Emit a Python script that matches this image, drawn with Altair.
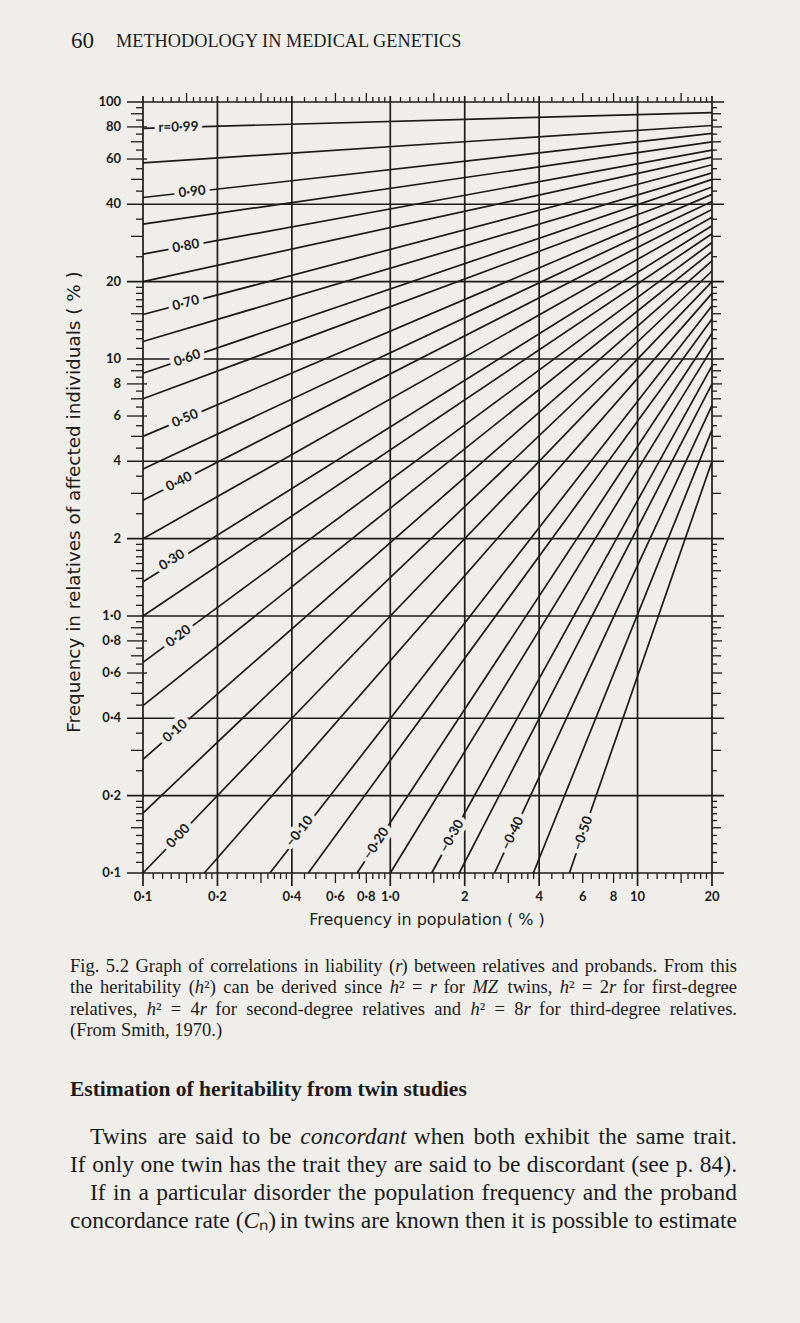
import altair as alt
import pandas as pd

BG = "#efeeea"
INK = "#1b1b1b"
W, H = 569, 771

# ---------------- data ----------------
r_values = [0.99, 0.95, 0.90, 0.85, 0.80, 0.75, 0.70, 0.65, 0.60, 0.55, 0.50,
            0.45, 0.40, 0.35, 0.30, 0.25, 0.20, 0.15, 0.10, 0.05, 0.00,
            -0.05, -0.10, -0.15, -0.20, -0.25, -0.30, -0.35, -0.40, -0.45, -0.50]
start_x = [0.1, 0.1, 0.1, 0.1, 0.1, 0.1, 0.1, 0.1, 0.1, 0.1, 0.1,
           0.1, 0.1, 0.1, 0.1, 0.1, 0.1, 0.1, 0.1, 0.1, 0.1,
           0.177, 0.326, 0.466, 0.734, 1.0, 1.47, 1.90, 2.64, 3.79, 5.3]
start_y = [79, 58, 42.5, 33.5, 25.6, 20.0, 14.9, 11.7, 8.8, 7.0, 5.0,
           3.73, 2.82, 2.0, 1.36, 1.0, 0.66, 0.448, 0.277, 0.171, 0.1,
           0.1, 0.1, 0.1, 0.1, 0.1, 0.1, 0.1, 0.1, 0.1, 0.1]
end_x = [20] * 31
end_y = [91, 81, 75.5, 70, 65, 61, 57, 53, 50, 46.7, 43.7,
         41, 38.2, 35.6, 33, 30.7, 28.4, 26.2, 24.1, 22, 20,
         18, 16.1, 14.3, 12.6, 11, 9.4, 8, 6.6, 5.3, 4.0]

label_text = ["r=0·99", "0·90", "0·80", "0·70", "0·60", "0·50", "0·40", "0·30",
              "0·20", "0·10", "0·00", "−0·10", "−0·20", "−0·30", "−0·40", "−0·50"]
label_x = [0.139, 0.158, 0.149, 0.149, 0.151, 0.148, 0.140, 0.131,
           0.139, 0.135, 0.139, 0.43, 0.878, 1.776, 3.13, 6.02]
label_y = [79.7, 44.7, 27.5, 16.5, 10.07, 5.87, 3.33, 1.65,
           0.834, 0.357, 0.139, 0.145, 0.130, 0.139, 0.1425, 0.1425]
label_angle = [359, 354, 350, 345, 341, 337, 333, 328,
               323, 319, 314, 308, 303, 299, 295, 289]

x_tick_values = [0.1, 0.2, 0.4, 0.6, 0.8, 1, 2, 4, 6, 8, 10, 20]
x_tick_text = ["0·1", "0·2", "0·4", "0·6", "0·8", "1·0", "2", "4", "6", "8", "10", "20"]
y_tick_values = [0.1, 0.2, 0.4, 0.6, 0.8, 1, 2, 4, 6, 8, 10, 20, 40, 60, 80, 100]
y_tick_text = ["0·1", "0·2", "0·4", "0·6", "0·8", "1·0", "2", "4", "6", "8",
               "10", "20", "40", "60", "80", "100"]

grid_x = [0.1, 0.2, 0.4, 1, 2, 4, 10, 20]
grid_y = [0.1, 0.2, 0.4, 1, 2, 4, 10, 20, 40, 100]

x_minor = [0.11, 0.12, 0.13, 0.14, 0.16, 0.17, 0.18, 0.19,
           0.22, 0.24, 0.26, 0.28, 0.32, 0.34, 0.36, 0.38,
           0.45, 0.5, 0.55, 0.65, 0.7, 0.75, 0.85, 0.9, 0.95,
           1.1, 1.2, 1.3, 1.4, 1.6, 1.7, 1.8, 1.9,
           2.2, 2.4, 2.6, 2.8, 3.2, 3.4, 3.6, 3.8,
           4.5, 5, 5.5, 6.5, 7, 7.5, 8.5, 9, 9.5,
           11, 12, 13, 14, 16, 17, 18, 19]
x_mid = [0.15, 0.3, 0.6, 0.8, 1.5, 3, 6, 8, 15]

y_minor = [0.11, 0.12, 0.13, 0.14, 0.16, 0.17, 0.18, 0.19, 0.25, 0.35,
           0.45, 0.55, 0.65, 0.75, 0.85, 0.95,
           1.1, 1.2, 1.3, 1.4, 1.6, 1.7, 1.8, 1.9, 2.5, 3.5,
           4.5, 5.5, 6.5, 7.5, 8.5, 9.5,
           11, 12, 13, 14, 16, 17, 18, 19, 25, 35,
           45, 55, 65, 75, 85, 95]
y_mid = [0.15, 0.3, 0.5, 0.7, 0.9, 1.5, 3, 5, 7, 9, 15, 30, 50, 70, 90]
y_major = [0.6, 0.8, 6, 8, 60, 80]

header_num = "60"
header_text = "METHODOLOGY IN MEDICAL GENETICS"
y_title = "Frequency in relatives of affected individuals ( % )"
x_title = "Frequency in population ( % )"
# _x_ marks italic pieces
caption_lines = [
    "Fig. 5.2 Graph of correlations in liability (_r_) between relatives and probands. From this",
    "the heritability (_h_²) can be derived since _h_² = _r_ for _MZ_ twins, _h_² = 2_r_ for first-degree",
    "relatives, _h_² = 4_r_ for second-degree relatives and _h_² = 8_r_ for third-degree relatives.",
    "(From Smith, 1970.)",
]
heading = "Estimation of heritability from twin studies"
para_lines = [
    "Twins are said to be _concordant_ when both exhibit the same trait.",
    "If only one twin has the trait they are said to be discordant (see p. 84).",
    "If in a particular disorder the population frequency and the proband",
    "concordance rate (_C_ₙ) in twins are known then it is possible to estimate",
]

# ---------------- text layout helper (Times metrics, per 1000 em) ----------------
TNR = {" ": 250, "!": 333, "(": 333, ")": 333, ",": 250, "-": 333, ".": 250,
       ":": 278, ";": 278, "=": 564, "²": 300, "ₙ": 300, "%": 833,
       "A": 722, "B": 667, "C": 667, "D": 722, "E": 611, "F": 556, "G": 722,
       "H": 722, "I": 333, "J": 389, "K": 722, "L": 611, "M": 889, "N": 722,
       "O": 722, "P": 556, "Q": 722, "R": 667, "S": 556, "T": 611, "U": 722,
       "V": 722, "W": 944, "X": 722, "Y": 722, "Z": 611,
       "a": 444, "b": 500, "c": 444, "d": 500, "e": 444, "f": 333, "g": 500,
       "h": 500, "i": 278, "j": 278, "k": 500, "l": 278, "m": 778, "n": 500,
       "o": 500, "p": 500, "q": 500, "r": 333, "s": 389, "t": 278, "u": 500,
       "v": 500, "w": 722, "x": 500, "y": 500, "z": 444}


def tw(s, size):
    return sum(TNR.get(ch, 500) for ch in s) * size / 1000.0


def layout(lines, x_starts, x_end, y0, dy, size, justify):
    roman, italic = [], []
    for k, line in enumerate(lines):
        words = []
        for w in line.split(" "):
            parts = w.split("_")
            words.append([(p, j % 2 == 1) for j, p in enumerate(parts) if p])
        widths = [sum(tw(p, size) for p, _ in wd) for wd in words]
        gap = tw(" ", size)
        if justify[k] and len(words) > 1:
            gap = max(gap * 0.7, (x_end - x_starts[k] - sum(widths)) / (len(words) - 1))
        x = x_starts[k]
        y = y0 + k * dy
        for wd, wdt in zip(words, widths):
            xx = x
            for p, it in wd:
                (italic if it else roman).append({"t": p, "x": xx, "y": y})
                xx += tw(p, size)
            x += wdt + gap
    return roman, italic


# ---------------- chart ----------------
OX, OY = 143, 102  # page position of plot origin
xs = alt.Scale(type="log", domain=[0.1, 20], nice=False)
ys = alt.Scale(type="log", domain=[0.1, 100], nice=False)
NUMFONT = "Lato"

lines_df = pd.DataFrame({"r": r_values, "x0": start_x, "y0": start_y,
                         "x1": end_x, "y1": end_y})
curves = alt.Chart(lines_df).mark_rule(color=INK, strokeWidth=1.7).encode(
    x=alt.X("x0:Q", scale=xs, axis=None), y=alt.Y("y0:Q", scale=ys, axis=None),
    x2="x1:Q", y2="y1:Q")

vgrid = alt.Chart(pd.DataFrame({"v": grid_x})).mark_rule(color=INK, strokeWidth=1.7).encode(
    x=alt.X("v:Q", scale=xs, axis=None), y=alt.value(-6), y2=alt.value(H + 13))
hgrid = alt.Chart(pd.DataFrame({"v": grid_y})).mark_rule(color=INK, strokeWidth=1.7).encode(
    y=alt.Y("v:Q", scale=ys, axis=None), x=alt.value(-16), x2=alt.value(W + 12))


def xticks(vals, a, b, sw=1.3):
    return alt.Chart(pd.DataFrame({"v": vals})).mark_rule(color=INK, strokeWidth=sw).encode(
        x=alt.X("v:Q", scale=xs, axis=None), y=alt.value(a), y2=alt.value(b))


def yticks(vals, a, b, sw=1.3):
    return alt.Chart(pd.DataFrame({"v": vals})).mark_rule(color=INK, strokeWidth=sw).encode(
        y=alt.Y("v:Q", scale=ys, axis=None), x=alt.value(a), x2=alt.value(b))


tick_layers = [
    xticks(x_minor, H, H + 6), xticks(x_mid, H, H + 10),
    xticks(x_minor, 0, -5), xticks(x_mid, 0, -9),
    yticks(y_minor, -7, 0), yticks(y_mid, -12, 0), yticks(y_major, -16, 4),
    yticks(y_minor, W, W + 5), yticks(y_mid, W, W + 9), yticks(y_major, W, W + 10),
]

xlab = alt.Chart(pd.DataFrame({"v": x_tick_values, "t": x_tick_text})).mark_text(
    font=NUMFONT, fontSize=13, fontWeight="bold", color=INK, align="center",
    baseline="middle").encode(
    x=alt.X("v:Q", scale=xs, axis=None), y=alt.value(897 - OY), text="t:N")
ylab = alt.Chart(pd.DataFrame({"v": y_tick_values, "t": y_tick_text})).mark_text(
    font=NUMFONT, fontSize=13, fontWeight="bold", color=INK, align="right",
    baseline="middle").encode(
    y=alt.Y("v:Q", scale=ys, axis=None), x=alt.value(121 - OX), text="t:N")

lab_df = pd.DataFrame({"t": label_text, "x": label_x, "y": label_y, "a": label_angle})
halo = alt.Chart(lab_df).mark_text(
    font=NUMFONT, fontSize=13.5, fontWeight="bold", fill=BG, stroke=BG,
    strokeWidth=9, strokeJoin="round", align="center", baseline="middle").encode(
    x=alt.X("x:Q", scale=xs, axis=None), y=alt.Y("y:Q", scale=ys, axis=None),
    text="t:N", angle=alt.Angle("a:Q", scale=None))
labels = alt.Chart(lab_df).mark_text(
    font=NUMFONT, fontSize=13.5, fontWeight="bold", color=INK,
    align="center", baseline="middle").encode(
    x=alt.X("x:Q", scale=xs, axis=None), y=alt.Y("y:Q", scale=ys, axis=None),
    text="t:N", angle=alt.Angle("a:Q", scale=None))


def txt(s, x, y, size, font="Liberation Serif", weight="normal", style="normal",
        align="left", angle=0):
    return alt.Chart(alt.Data(values=[{}])).mark_text(
        text=s, font=font, fontSize=size, fontWeight=weight, fontStyle=style,
        align=align, baseline="middle", color=INK, angle=angle).encode(
        x=alt.value(x - OX), y=alt.value(y - OY))


def words_layer(rows, size, style):
    df = pd.DataFrame(rows)
    df["x"] = df["x"] - OX
    df["y"] = df["y"] - OY
    return alt.Chart(df).mark_text(
        font="Liberation Serif", fontSize=size, fontStyle=style, color=INK,
        align="left", baseline="middle").encode(
        x=alt.X("x:Q", scale=None, axis=None), y=alt.Y("y:Q", scale=None, axis=None),
        text="t:N")


CAP_SIZE, PARA_SIZE = 18.5, 23.5
cap_r, cap_i = layout(caption_lines, [70, 70, 70, 70], 737, 966, 21.4, CAP_SIZE,
                      [True, True, True, False])
par_r, par_i = layout(para_lines, [90, 70, 90, 70], 737, 1137, 28, PARA_SIZE,
                      [True, True, True, True])

texts = [
    txt(header_num, 71, 41, 23),
    txt(header_text, 116, 42, 18.3),
    txt(y_title, 74, 502, 18.4, font="DejaVu Sans", angle=270, align="center"),
    txt(x_title, 427, 920, 16, font="DejaVu Sans", align="center"),
    txt(heading, 70, 1090, 21.5, weight="bold"),
    words_layer(cap_r, CAP_SIZE, "normal"), words_layer(cap_i, CAP_SIZE, "italic"),
    words_layer(par_r, PARA_SIZE, "normal"), words_layer(par_i, PARA_SIZE, "italic"),
]

chart = alt.layer(
    curves, vgrid, hgrid, *tick_layers, halo, labels, xlab, ylab, *texts
).properties(
    width=W, height=H,
    autosize=alt.AutoSizeParams(type="none"),
    padding={"left": OX, "top": OY, "right": 800 - OX - W, "bottom": 1323 - OY - H},
    background=BG,
).configure_view(stroke=None)

chart.save("out.html", embed_options={"renderer": "svg", "actions": False})
